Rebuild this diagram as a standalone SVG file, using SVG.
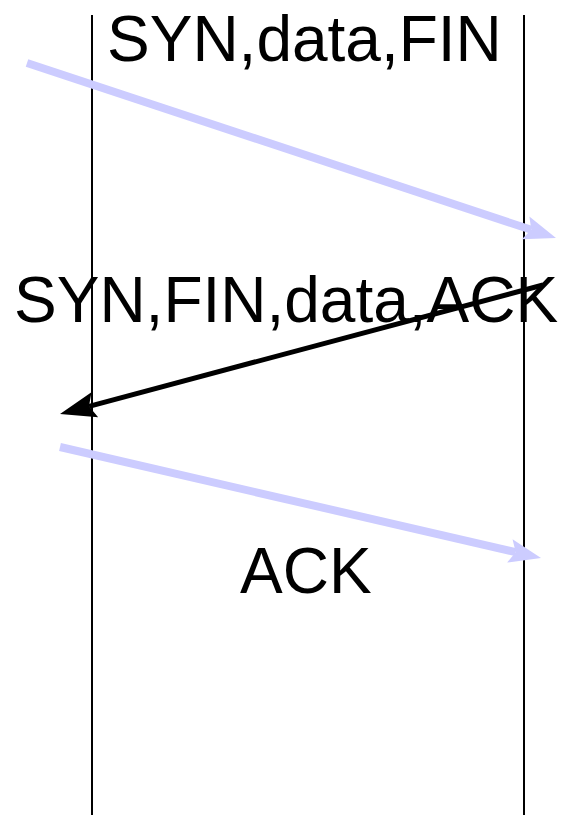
<svg xmlns="http://www.w3.org/2000/svg" width="561" height="815" viewBox="0 0 561 815">
<style>
.life{stroke:#000;stroke-width:2;fill:none}
.blue{stroke:#ccccff;stroke-width:8;fill:none}
.black{stroke:#000;stroke-width:5;fill:none}
.lbl{font-family:"Liberation Sans",Arial,sans-serif;font-size:64px;fill:#000}
</style>
<defs>
<marker id="hb" markerUnits="userSpaceOnUse" markerWidth="30" markerHeight="30" viewBox="0 -15 30 15" refX="0" refY="0" orient="auto" overflow="visible">
<path d="M-6,-12 L26,0 L-6,12 L0,0 Z" fill="#ccccff"/>
</marker>
<marker id="hk" markerUnits="userSpaceOnUse" markerWidth="34" markerHeight="30" viewBox="0 -15 34 15" refX="0" refY="0" orient="auto" overflow="visible">
<path d="M-6,-13 L30,0 L-6,13 L0,0 Z" fill="#000"/>
</marker>
</defs>
<g id="lifelines">
<line id="left" class="life" x1="92" y1="15" x2="92" y2="815"/>
<line id="right" class="life" x1="524" y1="15" x2="524" y2="815"/>
</g>
<g id="connectors">
<line class="blue" x1="27" y1="63" x2="531.3" y2="229.8" marker-end="url(#hb)"/>
<line class="black" x1="543" y1="285" x2="89" y2="406.3" marker-end="url(#hk)"/>
<line class="blue" x1="60" y1="447" x2="515.7" y2="552.2" marker-end="url(#hb)"/>
</g>
<g id="labels">
<text class="lbl" x="107" y="61">SYN,data,FIN</text>
<text class="lbl" x="14" y="322">SYN,FIN,data,ACK</text>
<text class="lbl" x="240" y="593">ACK</text>
</g>
</svg>
